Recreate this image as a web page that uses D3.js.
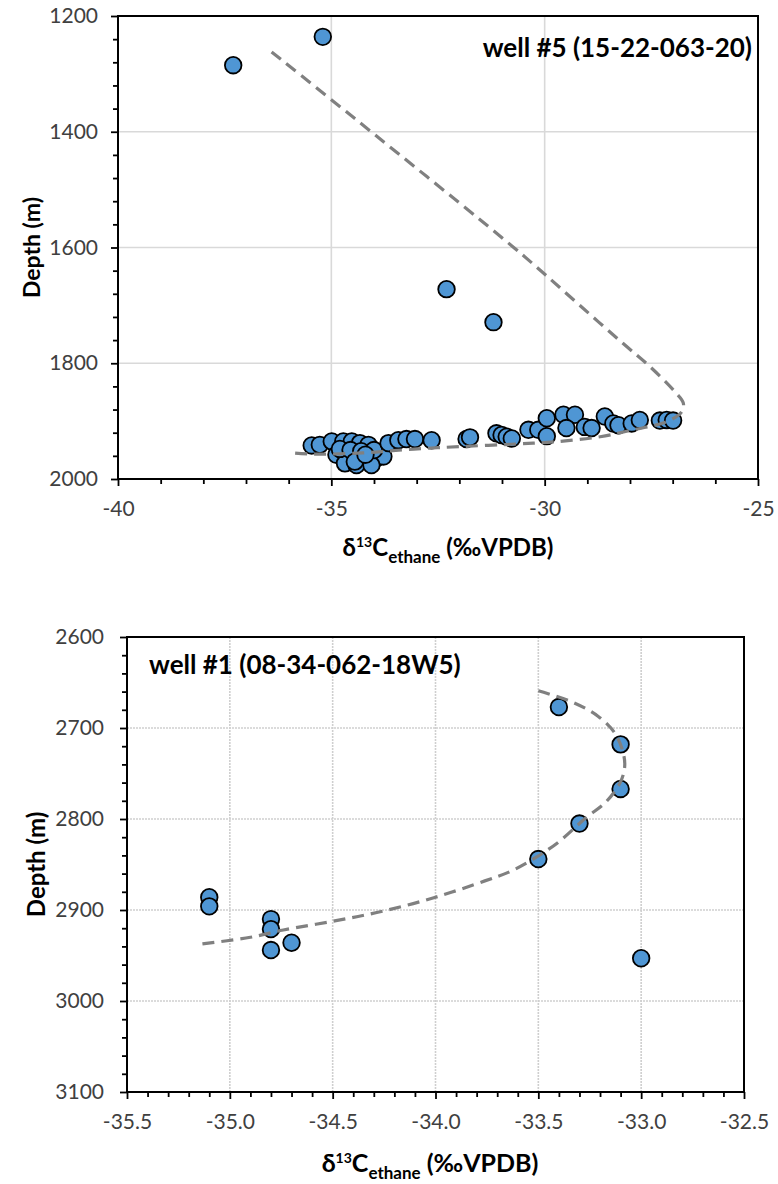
<!DOCTYPE html>
<html>
<head>
<meta charset="utf-8">
<script src="https://cdn.jsdelivr.net/npm/d3@7/dist/d3.min.js"></script>
<style>
  html, body { margin: 0; padding: 0; background: #ffffff; }
  svg { display: block; }
</style>
</head>
<body>
<svg id="chart" width="778" height="1184"></svg>
<script>
// ---- well #5 (15-22-063-20): ethane carbon isotope vs depth ----
const well5Title = "well #5 (15-22-063-20)";
const well5Delta = [
  -37.3, -35.2, -32.3, -31.2,
  -35.46, -35.27, -34.99, -34.72, -34.52, -34.33, -34.13,
  -34.88, -34.64, -34.41, -34.17, -33.94, -33.78,
  -34.68, -34.41, -34.06, -34.80, -34.55, -34.30, -34.00, -34.45, -34.20,
  -33.66, -33.43, -33.24, -33.04, -32.65,
  -31.83, -31.75, -31.13, -31.01, -30.89, -30.77,
  -30.38, -30.15, -29.95, -29.95, -29.56, -29.29, -29.49,
  -29.06, -28.90, -28.59, -28.39, -28.27, -27.96, -27.77,
  -27.30, -27.14, -26.99
];
const well5Depth = [
  1285, 1236, 1672, 1729,
  1942, 1941, 1935, 1935, 1935, 1938, 1941,
  1958, 1961, 1964, 1967, 1964, 1961,
  1973, 1976, 1976, 1948, 1950, 1952, 1950, 1970, 1958,
  1938, 1933, 1931, 1931, 1933,
  1931, 1928, 1921, 1924, 1927, 1930,
  1915, 1915, 1926, 1895, 1889, 1889, 1912,
  1910, 1912, 1892, 1904, 1907, 1904, 1898,
  1899, 1898, 1899
];
// trend line traced along depth
const well5TrendDelta = [
  -36.40, -34.42, -30.74, -29.97, -29.10, -28.16, -27.53, -26.95, -26.75,
  -26.79, -27.14, -27.93, -28.70, -29.81, -30.81, -31.99, -32.77, -33.56,
  -34.26, -35.43, -35.88
];
const well5TrendDepth = [
  1262, 1379, 1599, 1648, 1705, 1766, 1806, 1849, 1869,
  1884, 1901, 1915, 1927, 1936, 1940, 1944, 1947, 1951,
  1955, 1957, 1955
];
const well5XTicks = [-40, -35, -30, -25];
const well5YTicks = [1200, 1400, 1600, 1800, 2000];

// ---- well #1 (08-34-062-18W5) ----
const well1Title = "well #1 (08-34-062-18W5)";
const well1Delta = [-33.4, -33.1, -33.1, -33.3, -33.5, -35.1, -35.1, -34.8, -34.8, -34.8, -34.7, -33.0];
const well1Depth = [2677, 2718, 2767, 2805, 2844, 2886, 2896, 2910, 2921, 2944, 2936, 2953];
const well1TrendDelta = [
  -33.50, -33.33, -33.21, -33.13, -33.09, -33.08, -33.10, -33.17, -33.27,
  -33.40, -33.51, -33.63, -33.76, -34.00, -34.25, -34.49, -34.74, -34.90, -35.16
];
const well1TrendDepth = [
  2659, 2672, 2687, 2705, 2725, 2742, 2759, 2781, 2799,
  2825, 2842, 2857, 2868, 2886, 2901, 2912, 2922, 2930, 2938
];
const well1XTicks = [-35.5, -35.0, -34.5, -34.0, -33.5, -33.0, -32.5];
const well1YTicks = [2600, 2700, 2800, 2900, 3000, 3100];

const FONT = "Lato, 'Open Sans', sans-serif";
const svg = d3.select("#chart");

function drawPanel(opt) {
  const x = d3.scaleLinear().domain(opt.xDomain).range([opt.left, opt.right]);
  const y = d3.scaleLinear().domain(opt.yDomain).range([opt.top, opt.bottom]);
  const g = svg.append("g");

  // gridlines
  const grid = g.append("g")
    .attr("stroke", opt.gridColor)
    .attr("stroke-width", 1.6)
    .attr("stroke-dasharray", opt.gridDash || null);
  grid.selectAll("line.v")
    .data(opt.xTicks.slice(1, -1))
    .join("line")
    .attr("x1", d => x(d)).attr("x2", d => x(d))
    .attr("y1", opt.top).attr("y2", opt.bottom);
  grid.selectAll("line.h")
    .data(opt.yTicks.slice(1, -1))
    .join("line")
    .attr("x1", opt.left).attr("x2", opt.right)
    .attr("y1", d => y(d)).attr("y2", d => y(d));

  // minor ticks
  const minorX = d3.axisBottom(x).tickValues(opt.xMinor).tickSize(5).tickFormat("");
  const minorY = d3.axisLeft(y).tickValues(opt.yMinor).tickSize(5).tickFormat("");
  g.append("g").attr("transform", `translate(0,${opt.bottom})`).call(minorX)
    .call(s => s.select(".domain").remove())
    .selectAll("line").attr("stroke", "#000").attr("stroke-width", 1.8);
  g.append("g").attr("transform", `translate(${opt.left},0)`).call(minorY)
    .call(s => s.select(".domain").remove())
    .selectAll("line").attr("stroke", "#000").attr("stroke-width", 1.8);

  // major ticks + labels
  const ax = d3.axisBottom(x).tickValues(opt.xTicks).tickSize(7).tickPadding(15)
    .tickFormat(opt.xFormat);
  const ay = d3.axisLeft(y).tickValues(opt.yTicks).tickSize(7).tickPadding(opt.yPad)
    .tickFormat(d => String(d));
  const gx = g.append("g").attr("transform", `translate(0,${opt.bottom})`).call(ax);
  const gy = g.append("g").attr("transform", `translate(${opt.left},0)`).call(ay);
  [gx, gy].forEach(a => {
    a.select(".domain").remove();
    a.selectAll("line").attr("stroke", "#000").attr("stroke-width", 1.8);
    a.selectAll("text")
      .attr("font-family", FONT)
      .attr("font-size", opt.tickFont)
      .attr("fill", "#404040");
  });

  // frame
  g.append("rect")
    .attr("x", opt.left).attr("y", opt.top)
    .attr("width", opt.right - opt.left).attr("height", opt.bottom - opt.top)
    .attr("fill", "none").attr("stroke", "#000").attr("stroke-width", 2);

  // data points
  g.append("g").selectAll("circle")
    .data(opt.delta.map((d, i) => [d, opt.depth[i]]))
    .join("circle")
    .attr("cx", d => x(d[0])).attr("cy", d => y(d[1]))
    .attr("r", 8.3)
    .attr("fill", "#4f96d4")
    .attr("stroke", "#000").attr("stroke-width", 1.8);

  // trend line
  const line = d3.line().x(d => x(d[0])).y(d => y(d[1])).curve(d3.curveCatmullRom.alpha(0.5));
  g.append("path")
    .datum(opt.trendDelta.map((d, i) => [d, opt.trendDepth[i]]))
    .attr("d", line)
    .attr("fill", "none")
    .attr("stroke", "#808080")
    .attr("stroke-width", 3.2)
    .attr("stroke-dasharray", "12,7");

  // panel label
  g.append("text")
    .attr("x", opt.titleX).attr("y", opt.titleY)
    .attr("text-anchor", opt.titleAnchor)
    .attr("font-family", FONT).attr("font-weight", 700)
    .attr("font-size", 26).attr("fill", "#000")
    .text(opt.title);

  // axis titles
  g.append("text")
    .attr("transform", `translate(${opt.yTitleX},${(opt.top + opt.bottom) / 2}) rotate(-90)`)
    .attr("text-anchor", "middle")
    .attr("font-family", FONT).attr("font-weight", 700)
    .attr("font-size", opt.titleFont).attr("fill", "#000")
    .text("Depth (m)");

  const xt = g.append("text")
    .attr("x", opt.xTitleCX).attr("y", opt.xTitleY)
    .attr("text-anchor", "middle")
    .attr("font-family", FONT).attr("font-weight", 700)
    .attr("font-size", opt.titleFont + 1).attr("fill", "#000");
  xt.append("tspan").text("δ");
  xt.append("tspan").attr("font-size", 14).attr("dy", -9).text("13");
  xt.append("tspan").attr("dy", 9).text("C");
  xt.append("tspan").attr("font-size", 17).attr("dy", 7).text("ethane");
  xt.append("tspan").attr("dy", -7).text(" (‰VPDB)");
}

drawPanel({
  xDomain: [-40, -25], yDomain: [1200, 2000],
  left: 118, right: 758, top: 16, bottom: 479,
  xTicks: well5XTicks, yTicks: well5YTicks,
  xMinor: d3.range(-39, -25, 1).filter(v => v % 5 !== 0),
  yMinor: d3.range(1240, 2000, 40).filter(v => v % 200 !== 0),
  xFormat: d => String(d), yPad: 13, tickFont: 21, titleFont: 23,
  gridColor: "#d9d9d9", gridDash: null,
  delta: well5Delta, depth: well5Depth,
  trendDelta: well5TrendDelta, trendDepth: well5TrendDepth,
  title: well5Title, titleX: 752, titleY: 57, titleAnchor: "end",
  yTitleX: 40, xTitleCX: 448, xTitleY: 556
});

drawPanel({
  xDomain: [-35.5, -32.5], yDomain: [2600, 3100],
  left: 127, right: 744, top: 637, bottom: 1092,
  xTicks: well1XTicks, yTicks: well1YTicks,
  xMinor: d3.range(-35.4, -32.5, 0.1).map(v => Math.round(v * 10) / 10)
    .filter(v => Math.abs(Math.round(v * 2) - v * 2) > 1e-6),
  yMinor: d3.range(2620, 3100, 20).filter(v => v % 100 !== 0),
  xFormat: d => d.toFixed(1), yPad: 16, tickFont: 21, titleFont: 24,
  gridColor: "#cfcfcf", gridDash: "2,1",
  delta: well1Delta, depth: well1Depth,
  trendDelta: well1TrendDelta, trendDepth: well1TrendDepth,
  title: well1Title, titleX: 149, titleY: 674, titleAnchor: "start",
  yTitleX: 45, xTitleCX: 430, xTitleY: 1172
});
</script>
</body>
</html>
